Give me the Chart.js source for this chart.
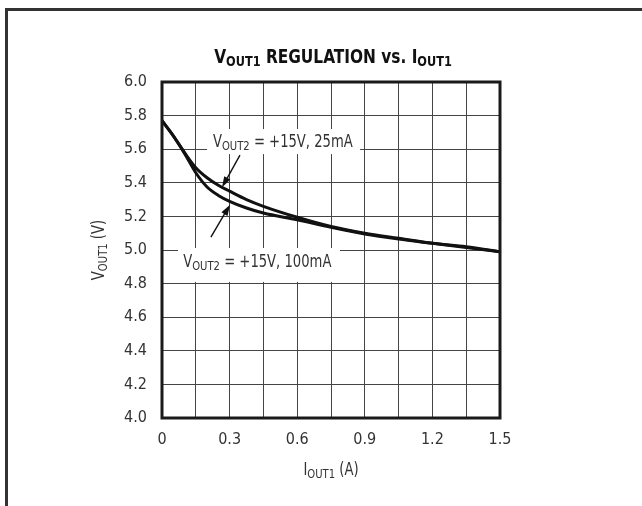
<!DOCTYPE html>
<html>
<head>
<meta charset="utf-8">
<script src="https://cdn.jsdelivr.net/npm/chart.js@4.4.1/dist/chart.umd.min.js"></script>
<style>
html, body { margin: 0; padding: 0; background: #fff; }
#wrap { position: relative; width: 642px; height: 506px; overflow: hidden; }
#frame { position: absolute; left: 5px; top: 8px; right: -10px; bottom: -10px;
         border-top: 3px solid #333; border-left: 3px solid #333; }
canvas { position: absolute; left: 0; top: 0; }
</style>
</head>
<body>
<div id="wrap">
  <div id="frame"></div>
  <canvas id="c" width="642" height="506"></canvas>
</div>
<script>
// data
const currentA  = [0, 0.05, 0.1, 0.15, 0.2, 0.25, 0.3, 0.375, 0.45, 0.6, 0.75, 0.9, 1.05, 1.2, 1.35, 1.5];
const vout25mA  = [5.77, 5.68, 5.58, 5.49, 5.43, 5.385, 5.35, 5.30, 5.26, 5.195, 5.14, 5.10, 5.07, 5.04, 5.02, 4.99];
const vout100mA = [5.77, 5.68, 5.575, 5.46, 5.375, 5.325, 5.29, 5.25, 5.22, 5.18, 5.135, 5.095, 5.065, 5.04, 5.015, 4.99];

const xTickValues = [0, 0.3, 0.6, 0.9, 1.2, 1.5];
const xTickLabels = ['0', '0.3', '0.6', '0.9', '1.2', '1.5'];
const yTickValues = [4.0, 4.2, 4.4, 4.6, 4.8, 5.0, 5.2, 5.4, 5.6, 5.8, 6.0];
const yTickLabels = ['4.0', '4.2', '4.4', '4.6', '4.8', '5.0', '5.2', '5.4', '5.6', '5.8', '6.0'];

const FONT = '"Liberation Sans Narrow", "DejaVu Sans Condensed", "Arial Narrow", sans-serif';
const TEXT = '#333';
const SQUEEZE = 0.86;

// callouts, positions in data units
const callouts = [
    { main: 'V', sub: 'OUT2', rest: ' = +15V, 25mA', x: 0.226, y: 5.613,
      box: [0.20, 5.72, 0.879, 5.571], from: [0.346, 5.565], to: [0.266, 5.372] },
    { main: 'V', sub: 'OUT2', rest: ' = +15V, 100mA', x: 0.094, y: 4.899,
      box: [0.071, 5.012, 0.79, 4.81], from: [0.217, 5.077], to: [0.302, 5.27] }
];

function pick(values, labels, v) {
    for (let i = 0; i < values.length; i++) {
        if (Math.abs(values[i] - v) < 1e-6) return labels[i];
    }
    return '';
}

// draw text made of [text, size, dy, weight] pieces
function richText(ctx, parts, x, y, align, sx) {
    sx = sx || 1;
    let w = 0;
    parts.forEach(p => {
        ctx.font = (p[3] || 'normal') + ' ' + p[1] + 'px ' + FONT;
        w += ctx.measureText(p[0]).width;
    });
    ctx.save();
    ctx.translate(x, y);
    ctx.scale(sx, 1);
    let cx = align === 'center' ? -w / 2 : 0;
    ctx.textAlign = 'left';
    ctx.textBaseline = 'alphabetic';
    parts.forEach(p => {
        ctx.font = (p[3] || 'normal') + ' ' + p[1] + 'px ' + FONT;
        ctx.fillText(p[0], cx, p[2]);
        cx += ctx.measureText(p[0]).width;
    });
    ctx.restore();
    return w * sx;
}

function arrow(ctx, x1, y1, x2, y2) {
    const a = Math.atan2(y2 - y1, x2 - x1);
    const len = 11, half = 3.5;
    ctx.beginPath();
    ctx.moveTo(x1, y1);
    ctx.lineTo(x2 - Math.cos(a) * len * 0.8, y2 - Math.sin(a) * len * 0.8);
    ctx.lineWidth = 1.4;
    ctx.strokeStyle = '#111';
    ctx.stroke();
    ctx.beginPath();
    ctx.moveTo(x2, y2);
    ctx.lineTo(x2 - Math.cos(a) * len - Math.sin(a) * half, y2 - Math.sin(a) * len + Math.cos(a) * half);
    ctx.lineTo(x2 - Math.cos(a) * len + Math.sin(a) * half, y2 - Math.sin(a) * len - Math.cos(a) * half);
    ctx.closePath();
    ctx.fillStyle = '#111';
    ctx.fill();
}

const decor = {
    id: 'decor',
    beforeDatasetsDraw(chart) {
        const ctx = chart.ctx, xs = chart.scales.x, ys = chart.scales.y;
        ctx.save();
        ctx.fillStyle = '#fff';
        callouts.forEach(c => {
            const l = xs.getPixelForValue(c.box[0]), t = ys.getPixelForValue(c.box[1]);
            const r = xs.getPixelForValue(c.box[2]), b = ys.getPixelForValue(c.box[3]);
            ctx.fillRect(l, t, r - l, b - t);
        });
        ctx.restore();
    },
    afterDraw(chart) {
        const ctx = chart.ctx, a = chart.chartArea, xs = chart.scales.x, ys = chart.scales.y;
        ctx.save();
        // plot border
        ctx.lineWidth = 3;
        ctx.strokeStyle = '#1a1a1a';
        ctx.strokeRect(a.left, a.top, a.right - a.left, a.bottom - a.top);

        // callouts
        callouts.forEach(c => {
            ctx.fillStyle = TEXT;
            richText(ctx, [[c.main, 17, 0], [c.sub, 13, 3], [c.rest, 17, 0]],
                xs.getPixelForValue(c.x), ys.getPixelForValue(c.y), 'left', SQUEEZE);
            arrow(ctx, xs.getPixelForValue(c.from[0]), ys.getPixelForValue(c.from[1]),
                xs.getPixelForValue(c.to[0]), ys.getPixelForValue(c.to[1]));
        });

        // title
        const cx = (a.left + a.right) / 2;
        ctx.fillStyle = '#111';
        richText(ctx, [['V', 19, 0, 'bold'], ['OUT1', 14, 3, 'bold'], [' REGULATION vs. I', 19, 0, 'bold'], ['OUT1', 14, 3, 'bold']],
            cx + 2, a.top - 19, 'center', 0.9);

        // axis titles
        ctx.fillStyle = TEXT;
        richText(ctx, [['I', 17, 0], ['OUT1', 13, 3], [' (A)', 17, 0]], cx, 475, 'center', SQUEEZE);
        ctx.translate(104, (a.top + a.bottom) / 2);
        ctx.rotate(-Math.PI / 2);
        richText(ctx, [['V', 17, 0], ['OUT1', 13, 3], [' (V)', 17, 0]], 0, 0, 'center', SQUEEZE);
        ctx.restore();
    }
};

const lineStyle = {
    borderColor: '#111',
    borderWidth: 3,
    pointRadius: 0,
    fill: false,
    cubicInterpolationMode: 'monotone'
};

new Chart(document.getElementById('c'), {
    type: 'line',
    data: {
        datasets: [
            Object.assign({ label: 'VOUT2 = +15V, 25mA',
                data: currentA.map((x, i) => ({ x: x, y: vout25mA[i] })) }, lineStyle),
            Object.assign({ label: 'VOUT2 = +15V, 100mA',
                data: currentA.map((x, i) => ({ x: x, y: vout100mA[i] })) }, lineStyle)
        ]
    },
    options: {
        responsive: false,
        animation: false,
        layout: { padding: { left: 100, right: 142, top: 82, bottom: 40 } },
        plugins: { legend: { display: false }, tooltip: { enabled: false } },
        scales: {
            x: {
                type: 'linear', min: 0, max: 1.5,
                afterFit: s => { s.height = 48; },
                grid: { color: '#444', lineWidth: 1, drawTicks: false },
                border: { display: false },
                ticks: {
                    stepSize: 0.15, padding: 12, autoSkip: false, maxRotation: 0,
                    color: TEXT, font: { family: FONT, size: 16 },
                    callback: v => pick(xTickValues, xTickLabels, v)
                }
            },
            y: {
                type: 'linear', min: 4, max: 6,
                afterFit: s => { s.width = 62; },
                grid: { color: '#444', lineWidth: 1, drawTicks: false },
                border: { display: false },
                ticks: {
                    stepSize: 0.2, padding: 15, autoSkip: false,
                    color: TEXT, font: { family: FONT, size: 16 },
                    callback: v => pick(yTickValues, yTickLabels, v)
                }
            }
        }
    },
    plugins: [decor]
});
</script>
</body>
</html>
